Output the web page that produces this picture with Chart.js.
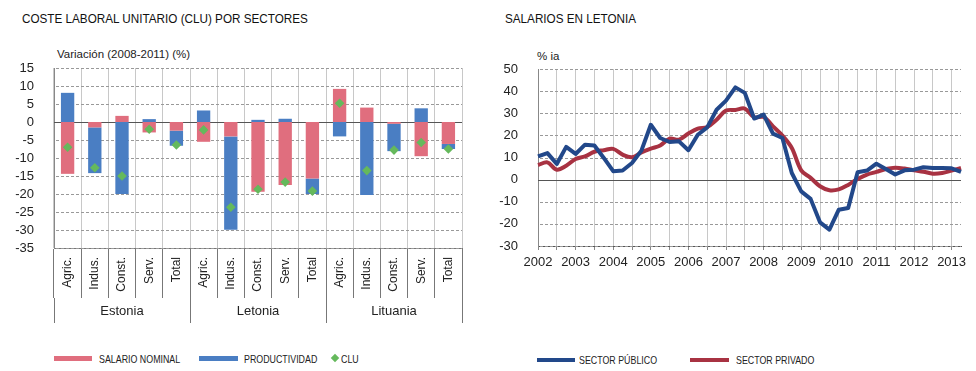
<!DOCTYPE html>
<html>
<head>
<meta charset="utf-8">
<script src="https://cdn.jsdelivr.net/npm/chart.js@4.4.1/dist/chart.umd.min.js"></script>
<style>
    body { margin: 0; background: #fff; width: 976px; height: 371px; position: relative; overflow: hidden; font-family: "Liberation Sans", Arial, sans-serif; }
    .titulo { position: absolute; top: 11px; font-size: 13px; color: #111; transform: scaleX(0.9); transform-origin: left top; white-space: nowrap; }
    .unidad { position: absolute; font-size: 11.5px; color: #222; }
    canvas { position: absolute; top: 0; }
    .leyenda { position: absolute; top: 353px; font-size: 11.5px; color: #222; line-height: 12px; transform: scaleX(0.77); transform-origin: left top; white-space: nowrap; }
    .caja { position: absolute; }
</style>
</head>
<body>
<div class="titulo" style="left:22px">COSTE LABORAL UNITARIO (CLU) POR SECTORES</div>
<div class="titulo" style="left:505px">SALARIOS EN LETONIA</div>
<div class="unidad" style="left:57px; top:48px">Variación (2008-2011) (%)</div>
<div class="unidad" style="left:537px; top:50px">% ia</div>
<canvas id="cluChart" width="480" height="340" style="left:0"></canvas>
<canvas id="salariosChart" width="496" height="340" style="left:480px"></canvas>

<div class="caja" style="left:54px; top:356px; width:38px; height:5px; background:#e06e7e"></div>
<div class="leyenda" style="left:99px">SALARIO NOMINAL</div>
<div class="caja" style="left:199px; top:356px; width:39px; height:5px; background:#4a7ec3"></div>
<div class="leyenda" style="left:244px">PRODUCTIVIDAD</div>
<div class="caja" style="left:332px; top:355px; width:6px; height:6px; background:#65b95c; transform:rotate(45deg)"></div>
<div class="leyenda" style="left:341px">CLU</div>
<div class="caja" style="left:537px; top:358px; width:38px; height:4px; background:#22488a"></div>
<div class="leyenda" style="left:579px; top:354px">SECTOR PÚBLICO</div>
<div class="caja" style="left:690px; top:358px; width:39px; height:4px; background:#a83242"></div>
<div class="leyenda" style="left:736px; top:354px">SECTOR PRIVADO</div>

<script>
// Gráfico izquierdo: CLU por sectores
const sectores = ['Agric.', 'Indus.', 'Const.', 'Serv.', 'Total'];
const paises = ['Estonia', 'Letonia', 'Lituania'];
const sectorLabels = [...sectores, ...sectores, ...sectores];
const salarioNominal = [-14.4, -1.5, 1.7, -2.9, -2.4, -5.5, -4.0, -19.4, -17.5, -15.7, 9.2, 4.0, -0.5, -9.5, -6.1];
const productividad = [8.1, -12.7, -20.0, 0.8, -4.2, 3.2, -25.9, 0.6, 0.9, -4.3, -4.0, -20.3, -7.6, 3.8, -1.4];
const clu = [-7.0, -12.7, -15.0, -2.0, -6.4, -2.2, -23.7, -18.7, -16.7, -19.2, 5.2, -13.5, -7.8, -5.7, -7.5];

// Gráfico derecho: salarios en Letonia (trimestral)
const anios = ['2002', '2003', '2004', '2005', '2006', '2007', '2008', '2009', '2010', '2011', '2012', '2013'];
const trimestres = ['T1', 'T2', 'T3', 'T4'];
const sectorPublico = [10.5, 12.0, 7.1, 14.8, 11.6, 15.8, 15.4, 9.8, 3.8, 4.1, 7.5, 13.1,
    24.8, 18.8, 17.0, 17.3, 13.3, 20.3, 23.6, 31.6, 35.7, 41.7, 39.2, 27.6,
    29.4, 20.8, 18.8, 3.0, -5.3, -8.7, -19.3, -22.6, -13.6, -12.8, 3.3, 4.1,
    7.2, 4.8, 2.3, 4.2, 4.5, 5.6, 5.3, 5.3, 5.1, 3.5];
const sectorPrivado = [6.6, 7.8, 4.5, 6.3, 9.3, 10.5, 12.6, 13.3, 13.9, 11.3, 10.1, 12.3,
    14.0, 15.4, 18.5, 18.1, 20.8, 23.0, 23.8, 27.1, 31.2, 31.5, 32.1, 28.2,
    28.3, 24.1, 19.9, 14.3, 4.2, 0.8, -3.0, -4.8, -4.4, -2.4, 0.3, 2.3,
    3.5, 4.8, 5.4, 5.0, 4.2, 3.6, 2.7, 3.0, 4.1, 5.3];

const FUENTE = '"Liberation Sans", Arial, sans-serif';

// Etiquetas trimestrales a partir de años y trimestres (hasta 2013 T2)
const trimLabels = [];
anios.forEach(a => trimestres.forEach(t => trimLabels.push(a + '-' + t)));
trimLabels.length = sectorPublico.length;

// Rejilla horizontal discontinua (trazos a mano) y línea del cero sólida
const rejillaY = {
    id: 'rejillaY',
    beforeDatasetsDraw(chart) {
        const { ctx, chartArea, scales: { y } } = chart;
        ctx.save();
        y.ticks.forEach(t => {
            const py = Math.round(y.getPixelForValue(t.value));
            if (t.value === 0) {
                ctx.fillStyle = '#555';
                ctx.fillRect(chartArea.left, py, chartArea.right - chartArea.left, 1);
                return;
            }
            ctx.fillStyle = '#999';
            for (let px = chartArea.left + 2; px < chartArea.right; px += 5) {
                ctx.fillRect(px, py, Math.min(3, chartArea.right - px), 1);
            }
        });
        ctx.restore();
    }
};

new Chart(document.getElementById('cluChart'), {
    type: 'bar',
    data: {
        labels: sectorLabels,
        datasets: [
            { type: 'line', label: 'CLU', data: clu, showLine: false, stack: 'clu', order: 0,
              pointStyle: 'rectRot', pointRadius: 4.8, backgroundColor: '#65b95c', borderColor: '#65b95c', borderWidth: 0 },
            { label: 'SALARIO NOMINAL', data: salarioNominal, backgroundColor: '#e06e7e', stack: 'a', order: 1,
              barPercentage: 0.49, categoryPercentage: 1 },
            { label: 'PRODUCTIVIDAD', data: productividad, backgroundColor: '#4a7ec3', stack: 'a', order: 1,
              barPercentage: 0.49, categoryPercentage: 1 }
        ]
    },
    options: {
        responsive: false,
        animation: false,
        layout: { padding: { top: 68, right: 18, left: 0, bottom: 17 } },
        plugins: { legend: { display: false }, tooltip: { enabled: false } },
        scales: {
            x: {
                stacked: true,
                weight: 0,
                grid: { color: '#c8c8c8', tickColor: '#777', tickLength: 50, offset: true },
                border: { color: '#777' },
                ticks: { autoSkip: false, minRotation: 90, maxRotation: 90, padding: -41,
                         color: '#222', font: { family: FUENTE, size: 12 } },
                afterFit: s => { s.height = 50; }
            },
            x2: {
                type: 'category',
                labels: paises,
                position: 'bottom',
                offset: true,
                weight: 1,
                grid: { drawOnChartArea: false, offset: true, tickColor: '#777', tickLength: 25 },
                border: { display: false },
                ticks: { padding: -19, color: '#222', font: { family: FUENTE, size: 13 } },
                afterFit: s => { s.height = 25; }
            },
            y: {
                stacked: true,
                min: -35,
                max: 15,
                grid: { display: false },
                border: { color: '#888' },
                ticks: { stepSize: 5, autoSkip: false, padding: 12, color: '#222', font: { family: FUENTE, size: 13 } },
                afterFit: s => { s.width = 54; }
            }
        }
    },
    plugins: [rejillaY]
});

new Chart(document.getElementById('salariosChart'), {
    type: 'line',
    data: {
        labels: trimLabels,
        datasets: [
            { label: 'SECTOR PÚBLICO', data: sectorPublico, borderColor: '#22488a', borderWidth: 4,
              pointRadius: 0, tension: 0, borderJoinStyle: 'round' },
            { label: 'SECTOR PRIVADO', data: sectorPrivado, borderColor: '#a83242', borderWidth: 4,
              pointRadius: 0, tension: 0.35, borderJoinStyle: 'round' }
        ]
    },
    options: {
        responsive: false,
        animation: false,
        layout: { padding: { top: 69, right: 15, left: 0, bottom: 64 } },
        plugins: { legend: { display: false }, tooltip: { enabled: false } },
        scales: {
            x: {
                grid: {
                    color: ctx => ctx.index % 2 === 0 ? '#c8c8c8' : 'rgba(0,0,0,0)',
                    tickColor: ctx => ctx.index % 2 === 0 ? '#888' : 'rgba(0,0,0,0)',
                    tickLength: 4
                },
                border: { color: '#555' },
                ticks: {
                    autoSkip: false, maxRotation: 0, padding: 5, color: '#222',
                    font: { family: FUENTE, size: 13 },
                    callback: function (v) {
                        const l = this.getLabelForValue(v);
                        return l.endsWith('T1') ? l.slice(0, 4) : '';
                    }
                },
                afterFit: s => { s.height = 30; }
            },
            y: {
                min: -30,
                max: 50,
                grid: { display: false },
                border: { color: '#888' },
                ticks: { stepSize: 10, autoSkip: false, padding: 12, color: '#222', font: { family: FUENTE, size: 13 } },
                afterFit: s => { s.width = 58; }
            }
        }
    },
    plugins: [rejillaY]
});
</script>
</body>
</html>
